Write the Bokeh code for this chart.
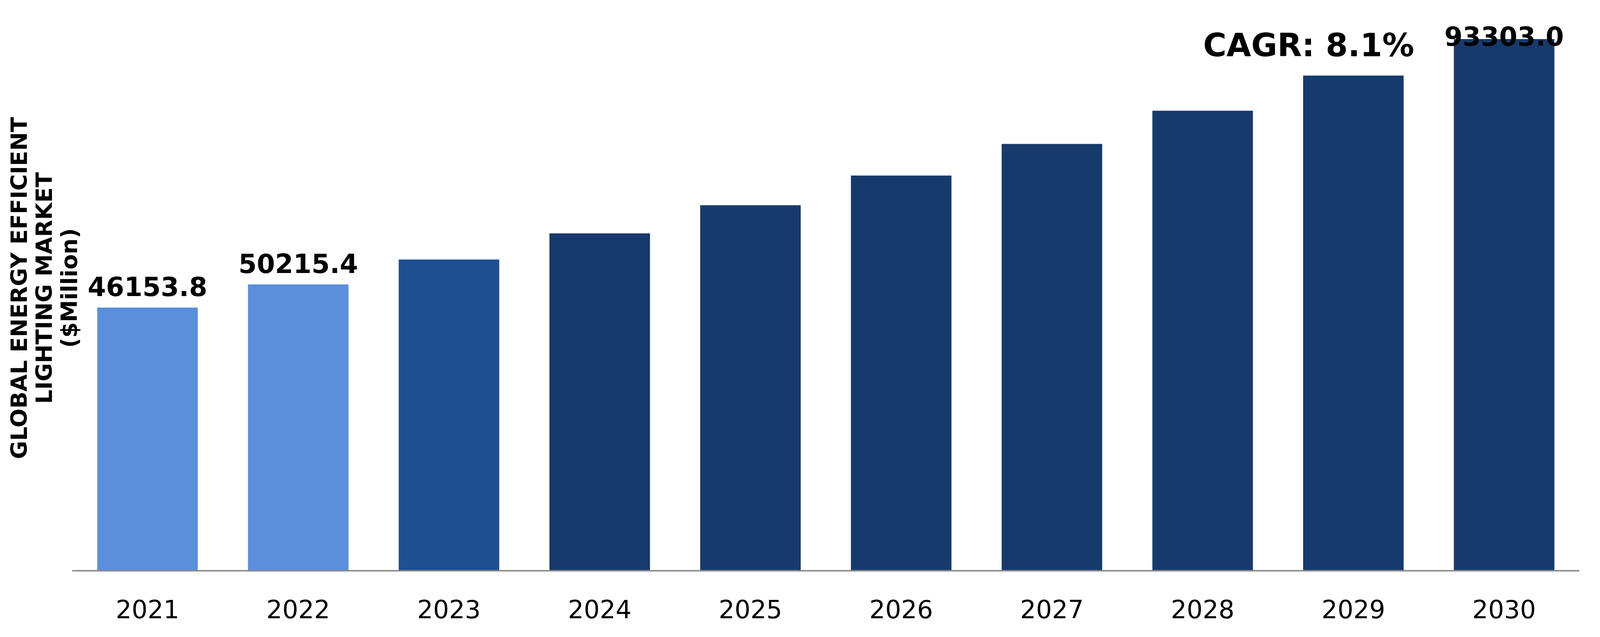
import math
from bokeh.plotting import figure
from bokeh.models import Range1d, FixedTicker
from bokeh.core.properties import value
from bokeh.embed import file_html
from bokeh.resources import INLINE

# ---- data ----
years = ["2021", "2022", "2023", "2024", "2025", "2026", "2027", "2028", "2029", "2030"]
market = [46153.8, 50215.4, 54588.0, 59183.0, 64121.0, 69333.0, 74888.0, 80717.0, 86888.0, 93303.0]
bar_colors = ["#5B8FDB", "#5B8FDB", "#1F4F93", "#173A6C", "#173A6C",
              "#173A6C", "#173A6C", "#173A6C", "#173A6C", "#173A6C"]
early_label_idx = [0, 1]
early_label_values = [46153.8, 50215.4]
early_label_texts = ["46153.8", "50215.4"]
last_label_idx = [9]
last_label_values = [93303.0]
last_label_texts = ["93303.0"]
y_title_lines = ["GLOBAL ENERGY EFFICIENT", "LIGHTING MARKET", "($Million)"]
cagr_text = "CAGR: 8.1%"

FONT = "DejaVu Sans"

# ---- layout ----
W, H = 4080, 1615
SX = 4096 / 6543          # horizontal scale of the visible page vs. the reference
SF = 0.8                  # font scale
left_gap = 307 * SX - 8   # from figure edge to first category slot
right_edge = 6471 * SX - 8
mbr = round(W - right_edge)
frame_w = W - mbr
P = (frame_w - left_gap) / len(years)
frame_h = 1463
k = 0.014582              # px per value unit
x_start = -0.5 - left_gap / P
x_end = len(years) - 0.5
y_start = -3 / k
y_end = y_start + frame_h / k

idx = list(range(len(years)))

p = figure(
    width=W, height=H,
    x_range=Range1d(x_start, x_end),
    y_range=Range1d(y_start, y_end),
    output_backend="svg", toolbar_location=None,
    min_border_left=0, min_border_right=mbr,
    min_border_top=0, min_border_bottom=H - frame_h,
)
p.outline_line_color = None
p.xgrid.grid_line_color = None
p.ygrid.grid_line_color = None
p.yaxis.visible = False

# bars
p.vbar(x=idx, top=market, width=0.667, bottom=0, color=bar_colors, line_color=None)

# baseline (axis line) under the bars
p.segment(x0=[-0.5], x1=[len(years) - 0.5], y0=[-1 / k], y1=[-1 / k],
          line_color="#898989", line_width=4)

# value labels
p.text(x=early_label_idx, y=early_label_values, text=early_label_texts,
       text_font=value(FONT), text_font_style="bold", text_font_size=f"{84 * SF:.1f}px",
       text_align="center", text_baseline="alphabetic", text_color="black", y_offset=-54)
p.text(x=last_label_idx, y=last_label_values, text=last_label_texts,
       text_font=value(FONT), text_font_style="bold", text_font_size=f"{84 * SF:.1f}px",
       text_align="center", text_baseline="alphabetic", text_color="black", y_offset=-8)

# CAGR note
p.text(x=[7.703], y=[92237], text=[cagr_text],
       text_font=value(FONT), text_font_style="bold", text_font_size=f"{102 * SF:.1f}px",
       text_align="center", text_baseline="alphabetic", text_color="black")

# vertical title (three centred lines)
p.text(x=[-0.851, -0.685, -0.521], y=[49582] * 3, text=y_title_lines, angle=math.pi / 2,
       text_font=value(FONT), text_font_style="bold", text_font_size="57px",
       text_align="center", text_baseline="alphabetic", text_color="black")

ax = p.xaxis[0]
ax.ticker = FixedTicker(ticks=idx)
ax.major_label_overrides = {i: y for i, y in zip(idx, years)}
ax.axis_line_color = None
ax.major_tick_line_color = None
ax.minor_tick_line_color = None
ax.major_tick_out = 0
ax.major_tick_in = 0
ax.major_label_standoff = 72
ax.major_label_text_font = FONT
ax.major_label_text_font_size = f"{80 * SF:.1f}px"
ax.major_label_text_color = "black"

open("out.html", "w").write(file_html(p, INLINE))
